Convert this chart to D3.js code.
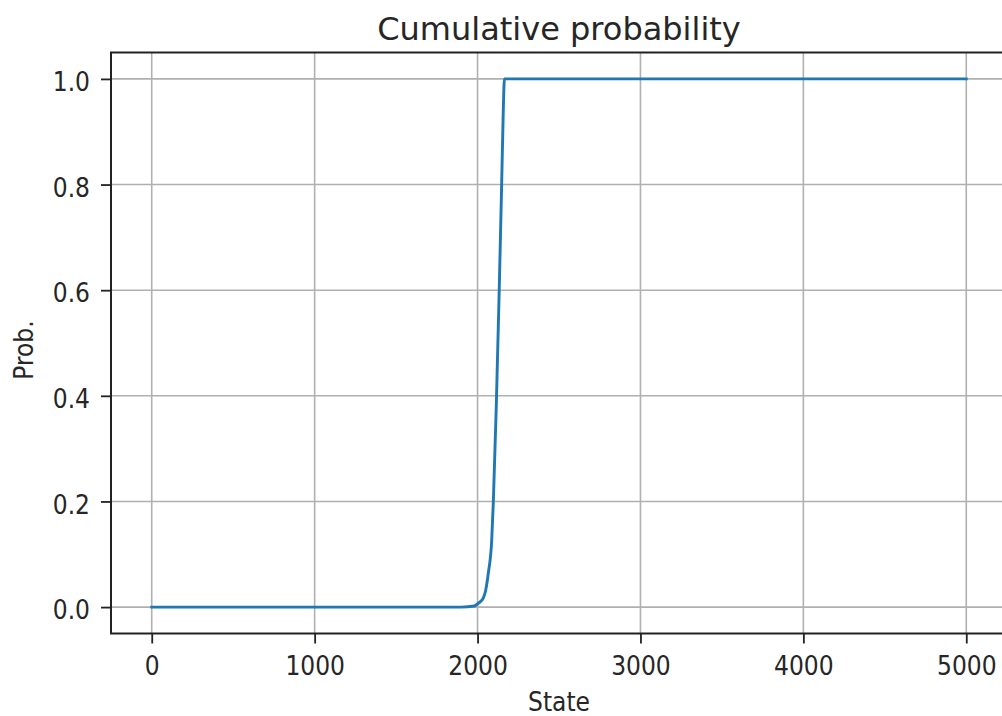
<!DOCTYPE html>
<html>
<head>
<meta charset="utf-8">
<script src="https://cdn.jsdelivr.net/npm/d3@7"></script>
<style>
  html, body { margin: 0; padding: 0; background: #fff; }
  svg { display: block; }
  text { fill: #262626; }
</style>
</head>
<body>
<svg id="chart" width="1002" height="716"></svg>
<script>
// Cumulative probability over states
const states = [0, 1000, 1900, 1980, 2008, 2035, 2050, 2066, 2087, 2097, 2115, 2133, 2148, 2158, 2165, 3000, 4000, 5000];
const probs  = [0, 0, 0, 0.002, 0.008, 0.017, 0.032, 0.064, 0.127, 0.2, 0.38, 0.6, 0.8, 0.94, 1.0, 1.0, 1.0, 1.0];

const xTicks = [0, 1000, 2000, 3000, 4000, 5000];
const yTicks = [0.0, 0.2, 0.4, 0.6, 0.8, 1.0];

const titleText = "Cumulative probability";
const xLabel = "State";
const yLabel = "Prob.";

const labelFont = "'DejaVu Sans Condensed', 'DejaVu Sans', sans-serif";
const titleFont = "'DejaVu Sans', sans-serif";

const svg = d3.select("#chart");
const plot = { left: 111, right: 1007, top: 52.5, bottom: 633.5 };

const x = d3.scaleLinear().domain([-250, 5250]).range([plot.left, plot.right]);
const y = d3.scaleLinear().domain([-0.05, 1.05]).range([plot.bottom, plot.top]);

// grid
const grid = svg.append("g");
grid.selectAll("line.vx").data(xTicks).join("line")
  .attr("x1", d => x(d)).attr("x2", d => x(d))
  .attr("y1", plot.top).attr("y2", plot.bottom)
  .attr("stroke", "#b0b0b0").attr("stroke-width", 1.6);
grid.selectAll("line.hy").data(yTicks).join("line")
  .attr("y1", d => y(d)).attr("y2", d => y(d))
  .attr("x1", plot.left).attr("x2", plot.right)
  .attr("stroke", "#b0b0b0").attr("stroke-width", 1.6);

// curve
const data = states.map((s, i) => ({ s, p: probs[i] }));
const line = d3.line().x(d => x(d.s)).y(d => y(d.p)).curve(d3.curveMonotoneX);
svg.append("path").datum(data)
  .attr("d", line)
  .attr("fill", "none")
  .attr("stroke", "#1f77b4")
  .attr("stroke-width", 2.9)
  .attr("stroke-linejoin", "round")
  .attr("stroke-linecap", "square");

// spines
svg.append("rect")
  .attr("x", plot.left).attr("y", plot.top)
  .attr("width", plot.right - plot.left).attr("height", plot.bottom - plot.top)
  .attr("fill", "none").attr("stroke", "#222").attr("stroke-width", 2);

// axes
const xAxis = d3.axisBottom(x).tickValues(xTicks).tickFormat(d3.format("d")).tickSize(10).tickPadding(13);
const yAxis = d3.axisLeft(y).tickValues(yTicks).tickFormat(d3.format(".1f")).tickSize(10).tickPadding(11);

const gx = svg.append("g").attr("transform", `translate(0,${plot.bottom})`).call(xAxis);
const gy = svg.append("g").attr("transform", `translate(${plot.left},0)`).call(yAxis);
[gx, gy].forEach(g => {
  g.select(".domain").remove();
  g.selectAll(".tick line").attr("stroke", "#222").attr("stroke-width", 1.8);
  g.selectAll(".tick text").attr("font-size", 26).attr("fill", "#262626")
    .style("font-family", labelFont);
});
gy.selectAll(".tick text").attr("dy", "0.45em");

// title and labels
svg.append("text").attr("x", 559).attr("y", 40)
  .attr("text-anchor", "middle").attr("font-size", 32)
  .style("font-family", titleFont).text(titleText);
svg.append("text").attr("x", x(2500)).attr("y", 711)
  .attr("text-anchor", "middle").attr("font-size", 26)
  .style("font-family", labelFont).text(xLabel);
svg.append("text").attr("transform", `translate(33,350) rotate(-90)`)
  .attr("text-anchor", "middle").attr("font-size", 26)
  .style("font-family", labelFont).text(yLabel);
</script>
</body>
</html>
